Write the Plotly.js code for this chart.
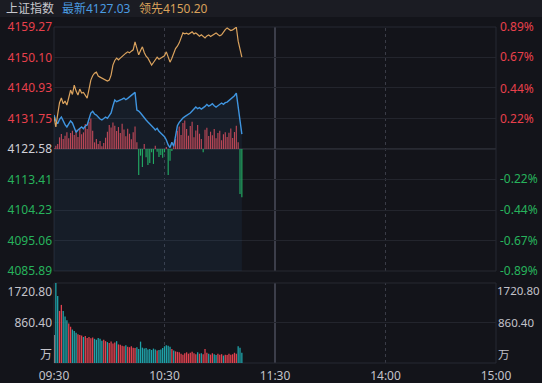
<!DOCTYPE html>
<html><head><meta charset="utf-8">
<script src="https://cdn.plot.ly/plotly-3.0.1.min.js"></script>
<style>html,body{margin:0;padding:0;background:#13141a;overflow:hidden}#chart{width:542px;height:383px}</style>
</head><body><div id="chart"></div>
<script>
// ---------- data ----------
const indexName = '上证指数';
const prevClose = 4122.58;
// 上证指数 minute prices (from 09:30)
const indexLine = [4132.8,4131.0,4130.2,4131.5,4132.2,4130.8,4129.9,4129.2,4130.1,4131.0,
4130.4,4129.0,4127.6,4128.3,4128.9,4129.2,4128.7,4129.5,4129.8,4131.6,
4133.4,4133.9,4133.1,4132.8,4132.1,4131.6,4131.3,4131.9,4132.2,4131.8,
4132.6,4133.4,4135.5,4137.3,4136.8,4137.0,4137.3,4137.6,4137.9,4137.4,
4137.8,4138.2,4138.6,4139.0,4139.6,4134.3,4134.0,4133.4,4132.6,4131.9,
4131.3,4130.7,4130.2,4129.8,4129.0,4128.3,4128.8,4127.9,4127.4,4127.0,
4126.3,4125.3,4123.8,4123.0,4124.6,4123.4,4126.5,4129.6,4130.6,4131.4,
4131.9,4132.3,4132.6,4133.1,4133.4,4134.0,4134.6,4135.2,4134.7,4135.0,
4134.6,4134.9,4135.4,4136.0,4135.5,4135.8,4136.2,4135.6,4135.2,4135.6,
4136.1,4136.4,4136.0,4136.5,4136.7,4137.2,4137.6,4137.9,4138.6,4139.4,
4135.2,4131.0,4127.03];
// 领先 line
const leadLine = [4132.2,4129.2,4133.0,4136.5,4137.9,4136.2,4137.0,4135.8,4138.0,4140.3,
4139.0,4141.8,4140.0,4138.8,4140.6,4139.4,4139.6,4138.5,4137.9,4140.5,
4143.3,4144.6,4145.4,4145.7,4144.5,4144.2,4143.9,4143.6,4143.3,4143.0,
4143.3,4144.8,4147.8,4149.2,4149.9,4149.4,4149.9,4150.5,4150.9,4151.4,
4151.8,4151.5,4152.0,4152.4,4154.8,4152.6,4150.9,4152.2,4153.3,4151.6,
4150.5,4149.9,4149.0,4147.8,4148.6,4149.4,4150.2,4149.6,4150.0,4150.2,
4150.6,4151.8,4150.1,4148.7,4149.9,4151.4,4152.8,4153.5,4154.5,4156.0,
4157.5,4157.2,4157.4,4157.1,4157.5,4157.8,4157.2,4157.5,4157.0,4156.5,
4156.9,4156.4,4156.0,4156.6,4156.9,4156.4,4156.8,4157.2,4157.5,4157.0,
4156.6,4156.9,4157.8,4158.5,4159.0,4158.6,4158.2,4158.4,4158.9,4159.2,
4155.0,4153.0,4150.20];
// strength bars (points relative to previous close)
const flowBars = [0.3,1.0,1.5,3.5,4.5,3.0,4.0,5.0,3.2,4.8,
5.5,4.2,5.8,3.6,6.2,4.4,5.0,7.5,6.0,8.2,
9.2,5.5,2.0,3.0,1.5,2.4,0.8,1.8,3.4,5.2,
7.2,6.5,8.0,7.0,5.4,6.6,4.8,7.6,5.9,3.8,
6.1,4.6,2.9,5.0,6.8,2.0,-7.8,-2.0,-5.4,1.5,
-2.5,-4.8,-4.2,-1.0,-4.5,1.0,-0.8,-2.4,-1.8,-2.6,
-1.0,0.6,-7.8,-3.5,-0.6,1.0,3.0,5.5,6.8,4.2,
7.8,8.6,6.0,4.0,6.9,8.2,3.5,5.6,7.2,4.6,
3.0,-1.0,5.8,6.4,3.9,5.2,4.1,6.0,3.2,4.8,
5.5,2.6,4.4,5.0,3.6,4.9,6.2,3.3,5.1,7.0,
2.0,-13.5,-14.5];
// volume (万)
const volume = [600,1760,1440,1120,1250,1120,1000,920,850,780,
720,690,650,620,600,590,560,580,540,560,
530,550,520,500,540,520,480,500,470,450,
430,460,420,440,470,400,390,370,360,380,
350,340,360,330,320,340,300,460,330,310,
320,290,300,280,310,290,270,280,290,320,
360,380,370,350,300,270,250,240,230,200,
180,210,230,200,220,240,210,190,230,200,
210,190,300,220,200,180,210,190,170,200,
180,190,160,180,170,200,180,190,220,200,
360,330,220];
const timeTickVals = [0,60,120,180,240];
const timeTickText = ['09:30','10:30','11:30','14:00','15:00'];
const priceTicks = [4159.27,4150.10,4140.93,4131.75,4122.58,4113.41,4104.23,4095.06,4085.89];
const pctTicks = [0.89,0.67,0.44,0.22,0,-0.22,-0.44,-0.67,-0.89];
const volTop = 1720.80, volMid = 860.40, volUnit = '万';

// ---------- styling ----------
const RED = '#e8404c', GREEN = '#27b35c', GRAY = '#cfcfd6', LBL = '#c3c3cb';
const BLUE = '#3f95e0', ORANGE = '#dba35e';
const GRID = '#23252d', FRAME = '#272932';
const FONT = 'Noto Sans, Noto Sans CJK SC, sans-serif';

const mins = indexLine.map((_, i) => i);
const colorOf = v => v > 0 ? RED : (v < 0 ? GREEN : GRAY);
const priceText = priceTicks.map(v => `<span style="color:${colorOf(v - prevClose)}">${v.toFixed(2)}</span>`);
const pctText = pctTicks.map(v => v === 0 ? '' : `<span style="color:${colorOf(v)}">${v.toFixed(2)}%</span>`);
const volColors = volume.map((_, i) => {
  if (i === 0) return '#c9a3ab';
  const d = indexLine[i] - indexLine[i - 1];
  return d > 0 ? '#e0424f' : (d < 0 ? '#1fa3a9' : '#9a8f99');
});
const barColors = flowBars.map(v => v >= 0 ? '#c9434e' : '#22b05c');

const traces = [
  {x: mins, y: indexLine, type: 'scatter', mode: 'lines', fill: 'tozeroy',
   fillcolor: 'rgba(60,120,190,0.09)', line: {width: 0}, hoverinfo: 'skip', xaxis: 'x', yaxis: 'y'},
  {x: mins, y: flowBars, base: prevClose, type: 'bar', marker: {color: barColors, line: {width: 0}},
   width: 0.62, xaxis: 'x', yaxis: 'y'},
  {x: mins, y: indexLine, type: 'scatter', mode: 'lines', line: {color: BLUE, width: 1.4}, xaxis: 'x', yaxis: 'y'},
  {x: mins, y: leadLine, type: 'scatter', mode: 'lines', line: {color: ORANGE, width: 1.2}, xaxis: 'x', yaxis: 'y'},
  {x: mins, y: volume, type: 'bar', marker: {color: volColors, line: {width: 0}}, width: 0.7, xaxis: 'x', yaxis: 'y2'}
];
// invisible carriers so the secondary (label-only) axes are drawn
['y3', 'y4', 'y5', 'y6', 'y7', 'y8'].forEach(ax => traces.push({x: [null], y: [null], type: 'scatter', mode: 'none',
  hoverinfo: 'skip', showlegend: false, xaxis: 'x', yaxis: ax}));

const tf = {family: FONT, size: 12, color: LBL};
const tfR = {family: FONT, size: 11.5, color: LBL};
const mainDom = [0.27381, 1], volDom = [0, 0.2381];
const volAxis = (extra) => Object.assign({domain: volDom, range: [0, volTop], anchor: 'x', showgrid: false,
  zeroline: false, showline: false, ticks: '', tickfont: tf, fixedrange: true, ticklabelstandoff: 1}, extra);

const vlines = [];
[['y domain'], ['y2 domain']].forEach(([yr]) => {
  [[60, 'dot', '#3a3c47', 1], [120, 'solid', '#3c3e4a', 2], [180, 'dot', '#3a3c47', 1]].forEach(([x, dash, c, w]) => {
    vlines.push({type: 'line', xref: 'x', x0: x, x1: x, yref: yr, y0: 0, y1: 1, line: {color: c, width: w, dash: dash}, layer: 'below'});
  });
  vlines.push({type: 'rect', xref: 'paper', x0: 0, x1: 1, yref: yr, y0: 0, y1: 1, line: {color: FRAME, width: 1}, layer: 'below'});
});

const layout = {
  width: 542, height: 383,
  margin: {l: 54, r: 46, t: 27, b: 20},
  paper_bgcolor: '#13141a', plot_bgcolor: '#13141a',
  showlegend: false, barmode: 'overlay',
  font: {family: FONT, size: 12, color: LBL},
  xaxis: {anchor: 'y2', range: [0, 240], tickvals: timeTickVals, ticktext: timeTickText,
    showgrid: false, zeroline: false, showline: false, ticks: 'outside', ticklen: 2, tickcolor: 'rgba(0,0,0,0)',
    tickfont: tf, fixedrange: true},
  yaxis: {domain: mainDom, anchor: 'x', range: [priceTicks[priceTicks.length - 1], priceTicks[0]],
    tickvals: priceTicks, ticktext: priceText, showgrid: true, gridcolor: GRID, zeroline: false, ticks: '',
    tickfont: tf, fixedrange: true, ticklabelstandoff: 1},
  yaxis3: {domain: mainDom, anchor: 'x', overlaying: 'y', side: 'right', range: [pctTicks[pctTicks.length - 1], pctTicks[0]],
    tickvals: pctTicks, ticktext: pctText, showgrid: false, zeroline: false, ticks: '', tickfont: tf, fixedrange: true,
    ticklabelstandoff: 3},
  yaxis2: volAxis({tickvals: [volMid], ticktext: [volMid.toFixed(2)], showgrid: true, gridcolor: GRID}),
  yaxis4: volAxis({overlaying: 'y2', tickvals: [volTop], ticktext: [volTop.toFixed(2)], ticklabelposition: 'outside bottom'}),
  yaxis5: volAxis({overlaying: 'y2', tickvals: [0], ticktext: [volUnit], ticklabelposition: 'outside top'}),
  yaxis6: volAxis({overlaying: 'y2', side: 'right', tickvals: [volMid], ticktext: [volMid.toFixed(2)], tickfont: tfR, ticklabelstandoff: 1}),
  yaxis7: volAxis({overlaying: 'y2', side: 'right', tickvals: [volTop], ticktext: [volTop.toFixed(2)], ticklabelposition: 'outside bottom', tickfont: tfR, ticklabelstandoff: 0}),
  yaxis8: volAxis({overlaying: 'y2', side: 'right', tickvals: [0], ticktext: [volUnit], ticklabelposition: 'outside top', tickfont: tfR, ticklabelstandoff: 1}),
  shapes: [
    {type: 'rect', xref: 'paper', yref: 'paper', x0: -0.2, x1: 1.2, y0: 1.0298, y1: 1.2, fillcolor: '#1b1c23', line: {width: 0}, layer: 'below'},
    {type: 'line', xref: 'paper', x0: 0, x1: 1, yref: 'y', y0: prevClose, y1: prevClose, line: {color: '#3e404b', width: 1}, layer: 'below'}
  ].concat(vlines),
  annotations: [
    {xref: 'paper', yref: 'paper', x: -0.1131, y: 1.0565, xanchor: 'left', yanchor: 'middle', showarrow: false,
     text: indexName, font: {family: FONT, size: 12, color: '#c8c8ce'}},
    {xref: 'paper', yref: 'paper', x: 0.0136, y: 1.0565, xanchor: 'left', yanchor: 'middle', showarrow: false,
     text: '最新' + indexLine[indexLine.length - 1].toFixed(2), font: {family: FONT, size: 12, color: '#4a9be0'}},
    {xref: 'paper', yref: 'paper', x: 0.1878, y: 1.0565, xanchor: 'left', yanchor: 'middle', showarrow: false,
     text: '领先' + leadLine[leadLine.length - 1].toFixed(2), font: {family: FONT, size: 12, color: '#d9a15a'}}
  ]
};

Plotly.newPlot('chart', traces, layout, {displayModeBar: false, staticPlot: true});
</script></body></html>
